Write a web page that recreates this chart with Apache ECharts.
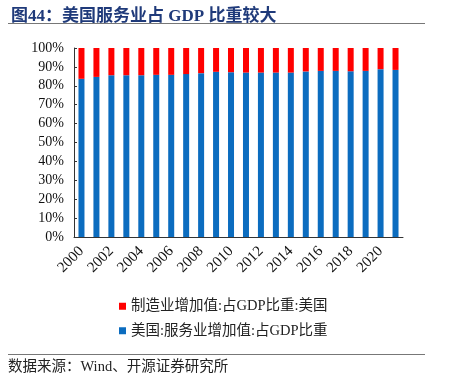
<!DOCTYPE html>
<html><head><meta charset="utf-8">
<script src="https://cdn.jsdelivr.net/npm/echarts@6/dist/echarts.min.js"></script>
<style>html,body{margin:0;padding:0;background:#fff}#c{width:474px;height:381px}</style>
</head><body><div id="c"></div>
<script>
const years = ['2000','2001','2002','2003','2004','2005','2006','2007','2008','2009','2010','2011','2012','2013','2014','2015','2016','2017','2018','2019','2020','2021'];
const services = [83.7,84.7,85.6,85.6,85.6,85.8,85.8,86.2,86.7,87.4,87.2,87.0,87.0,87.0,87.0,87.6,87.9,87.9,87.7,87.9,88.8,88.4];
const manufacturing = [16.3,15.3,14.4,14.4,14.4,14.2,14.2,13.8,13.3,12.6,12.8,13.0,13.0,13.0,13.0,12.4,12.1,12.1,12.3,12.1,11.2,11.6];
const yTicks = [0,10,20,30,40,50,60,70,80,90,100];
const nameManu = '制造业增加值:占GDP比重:美国';
const nameServ = '美国:服务业增加值:占GDP比重';

const serif = '"Liberation Serif","Noto Sans CJK SC",serif';
const chart = echarts.init(document.getElementById('c'));
chart.setOption({
  animation:false,
  title:{text:'图44：美国服务业占 GDP 比重较大', left:6, top:3,
    textStyle:{fontFamily:serif, fontWeight:'bold', fontSize:17, color:'#1F3A7A'}},
  graphic:[
    {type:'line', shape:{x1:8,y1:23.5,x2:425,y2:23.5}, style:{stroke:'#777',lineWidth:1}},
    {type:'line', shape:{x1:8,y1:354.5,x2:425,y2:354.5}, style:{stroke:'#777',lineWidth:1}},
    {type:'text', left:8, top:360, style:{text:'数据来源：Wind、开源证券研究所', font:'14.5px '+serif, fill:'#222'}}
  ],
  legend:{orient:'vertical', left:114, top:294, itemWidth:7, itemHeight:7, itemGap:10,
    icon:'rect', data:[nameManu, nameServ],
    textStyle:{fontFamily:serif, fontSize:14.5, color:'#222'}},
  grid:{left:74, right:71, top:48, bottom:144},
  xAxis:{type:'category', data:years,
    axisLine:{lineStyle:{color:'#333'}},
    axisTick:{inside:true, interval:1, length:3, lineStyle:{color:'#333'}},
    axisLabel:{interval:1, rotate:45, fontFamily:serif, fontSize:15, color:'#111', margin:12}},
  yAxis:{type:'value', min:0, max:100, interval:10,
    axisLine:{show:true, lineStyle:{color:'#333'}},
    axisTick:{show:true, inside:true, length:3, lineStyle:{color:'#333'}},
    splitLine:{show:false},
    axisLabel:{formatter:v=>yTicks.includes(v)?v+'%':'', fontFamily:serif, fontSize:14, color:'#111', margin:10}},
  series:[
    {name:nameServ, type:'bar', stack:'a', data:services, barWidth:6, itemStyle:{color:'#0B6CBF'}},
    {name:nameManu, type:'bar', stack:'a', data:manufacturing, barWidth:6, itemStyle:{color:'#FF0000'}}
  ]
});
</script></body></html>
